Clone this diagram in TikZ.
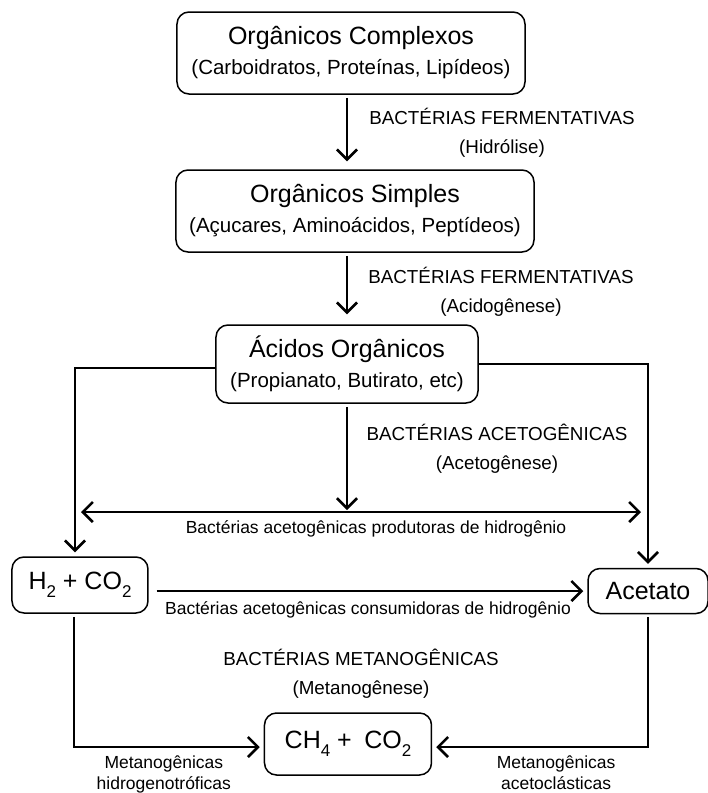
\documentclass[tikz,border=0pt]{standalone}
\usepackage{fontspec}
\setmainfont{Liberation Sans}
\usetikzlibrary{arrows.meta, positioning}
\newcommand{\chemsub}[1]{\raisebox{-0.3em}{\fontsize{17}{17}\selectfont #1}}

\begin{document}
\begin{tikzpicture}[node distance=2cm, font=\fontsize{18.5}{29}\selectfont]
		\tikzstyle{box} = [rectangle, rounded corners=12pt, draw=black, line width=1.5pt, inner sep=0pt, align=center, font=\fontsize{25}{30}\selectfont]
		
		\tikzstyle{phase} = [align=center, inner sep=0pt, font=\fontsize{18.8}{29}\selectfont]
		
		\tikzstyle{small} = [align=center, inner sep=2pt, font=\fontsize{17.5}{21}\selectfont]
		
		\tikzstyle{arrow} = [-{Straight Barb[length=10pt, width=20pt]}, line width=2.6pt, shorten <=3pt, shorten >=4pt]
		\tikzstyle{arrow2} = [{Straight Barb[length=10pt, width=20pt]}-{Straight Barb[length=10pt, width=20pt]}, line width=2.6pt]
		%-------------------------------------------------------
		% Stages of the digestion
		\node (n1) [box, minimum width=348pt, minimum height=82pt] {Orgânicos Complexos\\ {\fontsize{20.5}{30}\selectfont (Carboidratos, Proteínas, Lipídeos)}};
		\useasboundingbox (-351pt,53pt) rectangle (357pt,-740pt);
		
		\node (n2) [box, minimum width=358pt, minimum height=82pt, below of = n1, node distance=158pt, xshift=4pt] {Orgânicos Simples\\ {\fontsize{20.5}{30}\selectfont (Açucares, Aminoácidos, Peptídeos)}};
		
		\node (n3) [box, minimum width=262pt, minimum height=78pt, below of = n2, node distance=153pt, xshift=-8pt] {Ácidos Orgânicos\\ {\fontsize{20.5}{30}\selectfont (Propianato, Butirato, etc)}};
		
		\node (h2) [box, minimum width=136pt, minimum height=56pt, below of = n3, node distance=221pt, xshift=-267pt] {H\chemsub{2} + CO\chemsub{2}};
		
		\node (acet) [box, minimum width=120pt, minimum height=45pt, right of = h2, node distance=568pt, yshift=-6pt] {Acetato};
		
		\node (ch4) [box, minimum width=167pt, minimum height=62pt, below of = n3, node distance=380pt, xshift=1pt] {CH\chemsub{4} +\enspace CO\chemsub{2}};
		
		\coordinate [below of = n3, node distance=148pt] (mid);
		
		% Bacteria groups
		\node (l1) [phase, below of = n1, node distance=80pt, xshift=151pt] {BACTÉRIAS FERMENTATIVAS\\(Hidrólise)};
		\node (l2) [phase, below of = n2, node distance=81pt, xshift=146pt] {BACTÉRIAS FERMENTATIVAS\\(Acidogênese)};
		\node (l3) [phase, below of = n3, node distance=85pt, xshift=150pt] {BACTÉRIAS ACETOGÊNICAS\\(Acetogênese)};
		\node (l6) [phase, above of = ch4, node distance=70pt, xshift=13pt] {BACTÉRIAS METANOGÊNICAS\\(Metanogênese)};
		
		\draw [arrow, shorten >=8pt] (n1.south -| n3.north) -- (n2.north -| n3.north);
		\draw [arrow, shorten >=10pt] (n2.south -| n3.north) -- (n3.north);
		
		\draw [arrow, shorten <=0pt] ([yshift=-4pt]n3.west) -| ([xshift=-5pt]h2.north);
		\draw [arrow, shorten <=0pt] (n3.east) -| (acet.north);
		\draw [arrow, shorten >=2pt] (n3.south) -- (mid);
		
		\draw [arrow2] ([xshift=1pt]h2.north |- mid) -- node[small, below, xshift=15pt, yshift=-5pt]{Bactérias acetogênicas produtoras de hidrogênio} ([xshift=-7pt]acet.north |- mid);
		
		\draw [arrow, shorten <=8pt] (h2.east |- acet.west) -- node[small, below, yshift=-7pt]{Bactérias acetogênicas consumidoras de hidrogênio} (acet.west);
		
		\draw [arrow] ([xshift=-6pt]h2.south) |- node[small, below, pos=0.75, xshift=-5pt, yshift=-5pt]{Metanogênicas\\hidrogenotróficas} ([yshift=-3pt]ch4.west);
		\draw [arrow] (acet.south) |- node[small, below, pos=0.75, xshift=16pt, yshift=-5pt]{Metanogênicas\\acetoclásticas} ([yshift=-3pt]ch4.east);
		\end{tikzpicture}
\end{document}
